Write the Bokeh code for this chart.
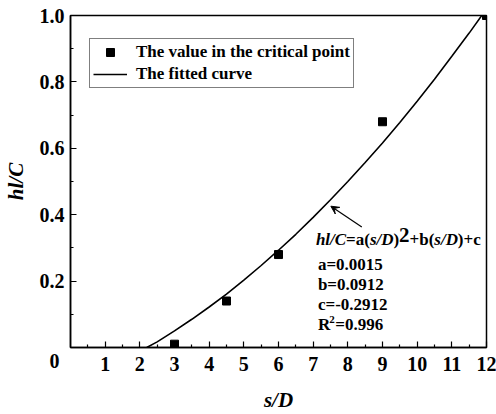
from bokeh.plotting import figure
from bokeh.models import (Range1d, FixedTicker, Label, Legend, LegendItem, Arrow, VeeHead,
                          NumeralTickFormatter)
from bokeh.embed import file_html
from bokeh.resources import INLINE

# ---- data ----
pt_x = [3, 4.5, 6, 9, 12]
pt_y = [0.01, 0.14, 0.28, 0.68, 1.0]

curve_x = [2.2, 2.5, 3, 3.5, 4, 4.5, 5, 5.5, 6, 6.5, 7, 7.5, 8, 8.5, 9, 9.5, 10, 10.5, 11, 11.5, 12]
curve_y = [0.0, 0.017, 0.050, 0.085, 0.122, 0.161, 0.203, 0.247, 0.293, 0.341, 0.392, 0.445,
           0.500, 0.557, 0.616, 0.678, 0.742, 0.808, 0.877, 0.947, 1.02]

x_ticks = list(range(1, 13))
x_minor = [i + 0.5 for i in range(0, 12)]
y_ticks = [0.0, 0.2, 0.4, 0.6, 0.8, 1.0]
y_minor = [0.1, 0.3, 0.5, 0.7, 0.9]

legend_labels = ["The value in the critical point", "The fitted curve"]
coef_lines = ["a=0.0015", "b=0.0912", "c=-0.2912"]
r2_value = "=0.996"

FONT = "Liberation Serif"

# frame geometry (pixels)
L, R, T, B = 69, 486, 15, 351
W, H = 496, 414

p = figure(width=W, height=H, output_backend="svg", toolbar_location=None,
           x_range=Range1d(0, 12), y_range=Range1d(0, 1.0),
           min_border_left=L, min_border_right=W - R, min_border_top=T, min_border_bottom=H - B)
p.grid.visible = False
p.background_fill_color = "white"
p.outline_line_color = "black"
p.outline_line_width = 1.5
p.outline_line_alpha = 1.0

def X(px):
    return (px - L) / (R - L) * 12

def Y(py):
    return (B - py) / (B - T) * 1.0

for ax in (p.xaxis[0], p.yaxis[0]):
    ax.axis_line_width = 1.5
    ax.axis_line_color = "black"
    ax.major_tick_in = 6
    ax.major_tick_out = 0
    ax.minor_tick_in = 3
    ax.minor_tick_out = 0
    ax.major_tick_line_width = 1.2
    ax.minor_tick_line_width = 1.2
    ax.major_label_text_font = FONT
    ax.major_label_text_font_style = "bold"
    ax.major_label_text_font_size = "20px"
    ax.major_label_text_color = "black"
    ax.axis_label_text_font = FONT
    ax.axis_label_text_font_style = "bold italic"
    ax.axis_label_text_font_size = "21px"
    ax.axis_label_text_color = "black"

p.xaxis.ticker = FixedTicker(ticks=x_ticks, minor_ticks=x_minor)
p.yaxis.ticker = FixedTicker(ticks=y_ticks, minor_ticks=y_minor)
p.yaxis.formatter = NumeralTickFormatter(format="0.0")
# corner "0": shown on a second line below the origin, nudged left
p.yaxis.major_label_overrides = {0: "\u00a0\n0\u00a0"}
p.xaxis.major_label_standoff = 9
p.yaxis.major_label_standoff = 6
p.xaxis.axis_label = "s/D"
p.yaxis.axis_label = "hl/C"
p.xaxis.axis_label_standoff = 14
p.yaxis.axis_label_standoff = 9

line = p.line(curve_x, curve_y, line_color="black", line_width=1.6)
sc = p.scatter(pt_x, pt_y, marker="square", size=8, fill_color="black", line_color="black")

legend = Legend(items=[LegendItem(label=legend_labels[0], renderers=[sc]),
                       LegendItem(label=legend_labels[1], renderers=[line])],
                location=(19, (B - T) - 30 - 47), margin=0, padding=3, spacing=2,
                glyph_width=34, glyph_height=20, label_height=20, label_standoff=9,
                label_text_font=FONT, label_text_font_style="bold", label_text_font_size="17px",
                label_text_color="black", border_line_color="black", border_line_width=1,
                background_fill_color="white", background_fill_alpha=1.0)
p.add_layout(legend)

# arrow pointing to the curve
p.add_layout(Arrow(x_start=X(361), y_start=Y(229), x_end=X(330), y_end=Y(208),
                   line_color="black", line_width=1.2,
                   end=VeeHead(size=8, fill_color="black", line_color="black", line_width=1)))

# equation pieces
pieces = [("hl/C", "bold italic", 17, 0),
          ("=a(", "bold", 17, 0),
          ("s/D", "bold italic", 17, 0),
          (")", "bold", 17, 0),
          ("2", "bold", 21, 5),
          ("+b(", "bold", 17, 0),
          ("s/D", "bold italic", 17, 0),
          (")+c", "bold", 17, 0)]
widths = {"hl/C": 30.2, "=a(": 23.9, "s/D": 23.6, ")": 5.7, "2": 10.5, "+b(": 24.8, ")+c": 22.9}
cx = 315
for txt, style, size, raise_px in pieces:
    p.add_layout(Label(x=X(cx), y=Y(242 - raise_px), text=txt, text_font=FONT,
                       text_font_style=style, text_font_size=f"{size}px",
                       text_align="left", text_baseline="middle", text_color="black"))
    cx += widths[txt]

for i, t in enumerate(coef_lines):
    p.add_layout(Label(x=X(317), y=Y(267 + 20 * i), text=t, text_font=FONT,
                       text_font_style="bold", text_font_size="17px",
                       text_align="left", text_baseline="middle", text_color="black"))
# R^2 line
p.add_layout(Label(x=X(317), y=Y(328), text="R", text_font=FONT, text_font_style="bold",
                   text_font_size="17px", text_align="left", text_baseline="middle", text_color="black"))
p.add_layout(Label(x=X(317 + 11.3), y=Y(323), text="2", text_font=FONT, text_font_style="bold",
                   text_font_size="11px", text_align="left", text_baseline="middle", text_color="black"))
p.add_layout(Label(x=X(317 + 17.5), y=Y(328), text=r2_value, text_font=FONT, text_font_style="bold",
                   text_font_size="17px", text_align="left", text_baseline="middle", text_color="black"))

open("out.html", "w").write(file_html(p, INLINE))
